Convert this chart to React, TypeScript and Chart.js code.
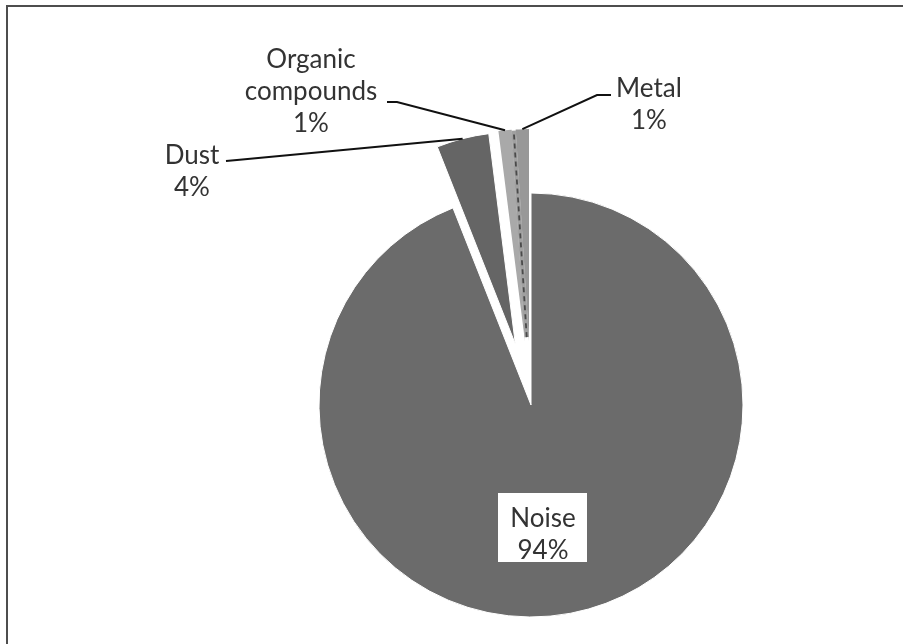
import { useEffect, useRef } from "react";
import { Chart, registerables } from "chart.js";

Chart.register(...registerables);

// Sources of complaints, share in percent
const categories = ["Noise", "Dust", "Organic compounds", "Metal"];
const shares = [94, 4, 1, 1];
const sliceColors = ["#6b6b6b", "#656565", "#a9a9a9", "#989898"];
const sliceBorders = [1, 1, 0, 0];
// how far each slice is pulled out of the pie, in pixels
const explodeDistance = [0, 63, 64, 64];

// label text: category words (wrapped) followed by the percentage
const labelLines = [["Noise"], ["Dust"], ["Organic", "compounds"], ["Metal"]];

// placement of each data label: centre x, first baseline, leader elbow
const labelPlacement = [
  { cx: 543, baseline: 527, boxed: true, elbow: [] as number[][] },
  { cx: 192, baseline: 164, boxed: false, elbow: [[226, 161], [237, 160]] },
  { cx: 311, baseline: 68, boxed: false, elbow: [[387, 102], [397, 102]] },
  { cx: 649, baseline: 97, boxed: false, elbow: [[611, 95], [597, 95]] },
];

const FONT = "26px Lato";
const LINE_GAP = 32;
const TEXT_COLOR = "#333333";

const explodePlugin = {
  id: "explodeSlices",
  afterDatasetUpdate(chart: any, args: any) {
    const meta = chart.getDatasetMeta(args.index);
    meta.data.forEach((arc: any, i: number) => {
      const mid = (arc.startAngle + arc.endAngle) / 2;
      const d = explodeDistance[i] || 0;
      arc.x += Math.cos(mid) * d;
      arc.y += Math.sin(mid) * d;
    });
  },
};

const labelPlugin = {
  id: "pieLabels",
  afterDatasetsDraw(chart: any) {
    const ctx: CanvasRenderingContext2D = chart.ctx;
    const meta = chart.getDatasetMeta(0);
    ctx.save();

    // seam between the organic and metal slices: grey fill with a dark dashed line
    const organic = meta.data[2];
    const metal = meta.data[3];
    if (organic && metal) {
      const sx = (organic.x + metal.x) / 2;
      const sy = (organic.y + metal.y) / 2;
      const a = metal.startAngle;
      const r = metal.outerRadius - 1;
      ctx.beginPath();
      ctx.moveTo(sx + Math.cos(a) * 4, sy + Math.sin(a) * 4);
      ctx.lineTo(sx + Math.cos(a) * r, sy + Math.sin(a) * r);
      ctx.strokeStyle = "#a0a0a0";
      ctx.lineWidth = 4.5;
      ctx.stroke();
      ctx.strokeStyle = "#4a4a4a";
      ctx.lineWidth = 1.8;
      ctx.setLineDash([5, 4]);
      ctx.stroke();
      ctx.setLineDash([]);
    }

    ctx.font = FONT;
    ctx.textAlign = "center";
    ctx.textBaseline = "alphabetic";

    meta.data.forEach((arc: any, i: number) => {
      const place = labelPlacement[i];
      const lines = [...labelLines[i], `${shares[i]}%`];

      if (place.elbow.length) {
        const mid = (arc.startAngle + arc.endAngle) / 2;
        const ex = arc.x + Math.cos(mid) * arc.outerRadius;
        const ey = arc.y + Math.sin(mid) * arc.outerRadius;
        ctx.strokeStyle = "#111111";
        ctx.lineWidth = 2;
        ctx.beginPath();
        ctx.moveTo(place.elbow[0][0], place.elbow[0][1]);
        for (let k = 1; k < place.elbow.length; k++) ctx.lineTo(place.elbow[k][0], place.elbow[k][1]);
        ctx.lineTo(ex, ey);
        ctx.stroke();
      }

      if (place.boxed) {
        const w = Math.max(...lines.map((t) => ctx.measureText(t).width)) + 24;
        const top = place.baseline - 34;
        const h = LINE_GAP * (lines.length - 1) + 35 + 2;
        ctx.fillStyle = "#ffffff";
        ctx.fillRect(Math.round(place.cx - w / 2), top, Math.round(w), h);
      }

      ctx.fillStyle = TEXT_COLOR;
      lines.forEach((t, k) => {
        ctx.fillText(t, place.cx, place.baseline + k * LINE_GAP);
      });
    });
    ctx.restore();
  },
};

export default function App() {
  const canvasRef = useRef<HTMLCanvasElement | null>(null);

  useEffect(() => {
    if (!canvasRef.current) return;
    const chart = new Chart(canvasRef.current, {
      type: "pie",
      data: {
        labels: categories,
        datasets: [
          {
            data: shares,
            backgroundColor: sliceColors,
            borderColor: "#ffffff",
            borderWidth: sliceBorders,
            radius: 212,
          },
        ],
      },
      options: {
        responsive: false,
        animation: false,
        layout: { padding: { left: 159, right: 0, top: 166, bottom: 0 } },
        plugins: {
          legend: { display: false },
          tooltip: { enabled: false },
        },
      },
      plugins: [explodePlugin, labelPlugin],
    });
    return () => chart.destroy();
  }, []);

  return (
    <div style={{ position: "absolute", left: 0, top: 0, width: 903, height: 644, background: "#ffffff", overflow: "hidden" }}>
      <canvas ref={canvasRef} width={903} height={644} style={{ position: "absolute", left: 0, top: 0 }} />
      <div
        style={{
          position: "absolute",
          left: 6,
          top: 5,
          right: -4,
          bottom: -4,
          borderTop: "2px solid #4d4d4d",
          borderLeft: "2px solid #4d4d4d",
          pointerEvents: "none",
        }}
      />
    </div>
  );
}
